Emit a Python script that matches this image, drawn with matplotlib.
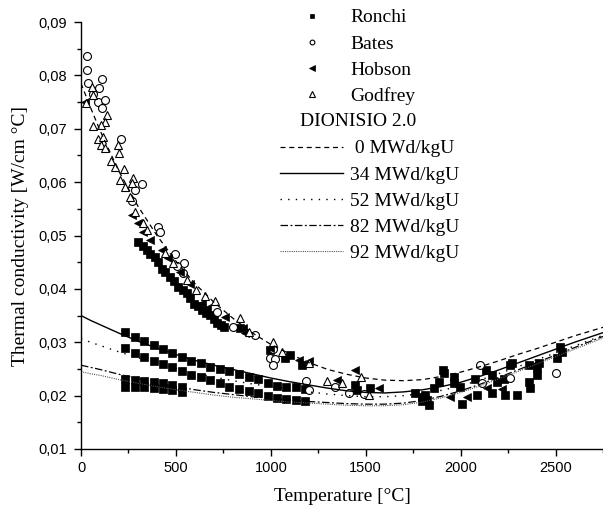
import matplotlib
matplotlib.use("Agg")
import matplotlib.pyplot as plt
from matplotlib.lines import Line2D
from matplotlib.ticker import MultipleLocator, FuncFormatter

# ---------------- data ----------------
ronchi_T = [232, 285, 334, 385, 432, 482, 531, 580, 633, 682, 731, 780, 830, 883, 935, 983, 1032, 1081, 1134, 1181,
            232, 285, 334, 385, 432, 482, 531, 580, 633, 682, 731, 780, 830, 883, 935, 983, 1032, 1081, 1134, 1181,
            232, 285, 334, 385, 432, 482, 531,
            232, 285, 334, 385, 432, 482, 531,
            302, 325, 346, 365, 390, 405, 425, 445, 469, 490, 513, 535, 557, 575, 593, 615, 637, 658, 680, 700,
            716, 735, 751, 838, 997, 1076, 1102, 1164, 1445, 1454, 1524,
            1762, 1797, 1814, 1823, 1832, 1797, 1859, 1885, 1907, 1911, 1964, 1964, 1999, 2008, 2078, 2087, 2131,
            2166, 2166, 2192, 2228, 2236, 2262, 2271, 2295, 2359, 2359, 2368, 2403, 2412, 2403, 2509, 2526, 2535]
ronchi_k = [0.0319, 0.0310, 0.0302, 0.0295, 0.0287, 0.0280, 0.0273, 0.0265, 0.0261, 0.0254, 0.0250, 0.0246, 0.0241,
            0.0234, 0.0231, 0.0223, 0.0218, 0.0216, 0.0216, 0.0213,
            0.0289, 0.0280, 0.0273, 0.0265, 0.0259, 0.0253, 0.0246, 0.0239, 0.0234, 0.0229, 0.0223, 0.0217, 0.0213,
            0.0209, 0.0204, 0.0199, 0.0196, 0.0194, 0.0191, 0.0189,
            0.0231, 0.0229, 0.0228, 0.0226, 0.0223, 0.0220, 0.0217,
            0.0217, 0.0217, 0.0216, 0.0215, 0.0212, 0.0211, 0.0207,
            0.0488, 0.0480, 0.0473, 0.0465, 0.0460, 0.0450, 0.0437, 0.0432, 0.0423, 0.0414, 0.0404, 0.0397, 0.0392,
            0.0383, 0.0372, 0.0367, 0.0360, 0.0355, 0.0351, 0.0343, 0.0336, 0.0333, 0.0329, 0.0326, 0.0285, 0.0270,
            0.0277, 0.0257, 0.0220, 0.0211, 0.0214,
            0.0204, 0.0198, 0.0201, 0.0192, 0.0182, 0.0189, 0.0214, 0.0226, 0.0248, 0.0242, 0.0235, 0.0223, 0.0217,
            0.0184, 0.0231, 0.0201, 0.0248, 0.0239, 0.0204, 0.0226, 0.0232, 0.0201, 0.0257, 0.0261, 0.0201, 0.0257,
            0.0226, 0.0214, 0.0251, 0.0261, 0.0239, 0.0270, 0.0292, 0.0282]

bates_T = [30, 33, 39, 112, 65, 95, 91, 127, 112, 209, 320, 285, 267, 408, 417, 496, 543, 508, 536, 716, 803, 918,
           1011, 997, 1023, 1014, 1187, 1199, 1340, 1410, 1489, 2104, 2113, 2262, 2505]
bates_k = [0.0836, 0.0810, 0.0785, 0.0794, 0.0765, 0.0776, 0.0751, 0.0753, 0.0738, 0.0680, 0.0596, 0.0586, 0.0565,
           0.0515, 0.0507, 0.0465, 0.0449, 0.0443, 0.0429, 0.0357, 0.0328, 0.0314, 0.0287, 0.0270, 0.0268, 0.0257,
           0.0228, 0.0211, 0.0216, 0.0205, 0.0203, 0.0257, 0.0223, 0.0233, 0.0243]

hobson_T = [21, 267, 302, 325, 364, 425, 460, 522, 575, 637, 663, 760, 856, 865, 997, 1146, 1199, 1349, 1445, 1568,
            1946, 2034, 2140, 2219]
hobson_k = [0.0751, 0.0538, 0.0524, 0.0507, 0.0492, 0.0473, 0.0457, 0.0432, 0.0410, 0.0373, 0.0364, 0.0348, 0.0326,
            0.0317, 0.0289, 0.0267, 0.0264, 0.0229, 0.0248, 0.0214, 0.0198, 0.0198, 0.0214, 0.0212]

godfrey_T = [25, 60, 61, 135, 127, 65, 105, 88, 118, 105, 127, 197, 200, 158, 179, 228, 205, 272, 270, 232, 258, 285,
             325, 350, 443, 487, 561, 606, 654, 707, 838, 883, 1014, 1058, 1199, 1296, 1375, 1475, 1515]
godfrey_k = [0.0748, 0.0779, 0.0764, 0.0726, 0.0713, 0.0705, 0.0707, 0.0680, 0.0684, 0.0670, 0.0663, 0.0670, 0.0654,
             0.0640, 0.0629, 0.0624, 0.0604, 0.0607, 0.0598, 0.0591, 0.0573, 0.0544, 0.0524, 0.0510, 0.0468, 0.0448,
             0.0417, 0.0398, 0.0387, 0.0378, 0.0345, 0.0320, 0.0301, 0.0282, 0.0262, 0.0227, 0.0224, 0.0234, 0.0201]

model_T = [0, 50, 100, 200, 300, 400, 500, 600, 700, 800, 900, 1000, 1100, 1200, 1300, 1400, 1500, 1600, 1700, 1800,
           1900, 2000, 2100, 2200, 2300, 2400, 2500, 2600, 2750]
k_0 = [0.0785, 0.0740, 0.0697, 0.0620, 0.0555, 0.0500, 0.0452, 0.0410, 0.0375, 0.0345, 0.0318, 0.0296, 0.0278,
       0.0262, 0.0249, 0.0240, 0.0233, 0.0229, 0.0228, 0.0230, 0.0236, 0.0244, 0.0254, 0.0265, 0.0277, 0.0288,
       0.0300, 0.0312, 0.0328]
k_34 = [0.0350, 0.0341, 0.0333, 0.0317, 0.0302, 0.0289, 0.0277, 0.0266, 0.0257, 0.0249, 0.0241, 0.0233, 0.0226,
        0.0220, 0.0214, 0.0209, 0.0206, 0.0205, 0.0207, 0.0211, 0.0217, 0.0225, 0.0236, 0.0248, 0.0261, 0.0274,
        0.0287, 0.0300, 0.0318]
k_52 = [0.0307, 0.0300, 0.0294, 0.0282, 0.0271, 0.0260, 0.0251, 0.0242, 0.0235, 0.0228, 0.0222, 0.0217, 0.0212,
        0.0207, 0.0203, 0.0200, 0.0198, 0.0198, 0.0200, 0.0204, 0.0210, 0.0218, 0.0229, 0.0241, 0.0254, 0.0267,
        0.0280, 0.0293, 0.0313]
k_82 = [0.0257, 0.0253, 0.0249, 0.0240, 0.0232, 0.0224, 0.0217, 0.0211, 0.0206, 0.0202, 0.0198, 0.0195, 0.0192,
        0.0189, 0.0187, 0.0185, 0.0184, 0.0184, 0.0186, 0.0191, 0.0199, 0.0209, 0.0221, 0.0234, 0.0248, 0.0262,
        0.0276, 0.0290, 0.0311]
k_92 = [0.0245, 0.0241, 0.0238, 0.0230, 0.0223, 0.0217, 0.0211, 0.0206, 0.0201, 0.0197, 0.0194, 0.0191, 0.0188,
        0.0186, 0.0184, 0.0182, 0.0181, 0.0181, 0.0183, 0.0188, 0.0196, 0.0206, 0.0218, 0.0231, 0.0245, 0.0259,
        0.0273, 0.0287, 0.0308]

series_labels = ["Ronchi", "Bates", "Hobson", "Godfrey"]
model_labels = [" 0 MWd/kgU", "34 MWd/kgU", "52 MWd/kgU", "82 MWd/kgU", "92 MWd/kgU"]
model_title = "DIONISIO 2.0"
x_label = "Temperature [\u00b0C]"
y_label = "Thermal conductivity [W/cm \u00b0C]"

# ---------------- figure ----------------
serif = ["Liberation Serif", "DejaVu Serif"]
sans = ["Liberation Sans", "DejaVu Sans"]
FS = 14

fig = plt.figure(figsize=(6.03, 5.14), dpi=100)
ax = fig.add_axes([81 / 603, 65 / 514, 1 - 81 / 603, (449 - 22) / 514])

ms = 5.7
h_r, = ax.plot(ronchi_T, ronchi_k, ls="none", marker="s", ms=ms * 0.95, mfc="black", mec="black", mew=0.5)
h_b, = ax.plot(bates_T, bates_k, ls="none", marker="o", ms=ms, mfc="white", mec="black", mew=0.8)
h_h, = ax.plot(hobson_T, hobson_k, ls="none", marker="<", ms=ms * 1.1, mfc="black", mec="black", mew=0.5)
h_g, = ax.plot(godfrey_T, godfrey_k, ls="none", marker="^", ms=ms * 1.1, mfc="white", mec="black", mew=0.8)

l0, = ax.plot(model_T, k_0, color="black", lw=0.9, dashes=(4, 3))
l34, = ax.plot(model_T, k_34, color="black", lw=1.0, ls="-")
l52, = ax.plot(model_T, k_52, color="black", lw=1.0, dashes=(1, 4.5))
l82, = ax.plot(model_T, k_82, color="black", lw=0.9, dashes=(6, 2, 1.5, 2))
l92, = ax.plot(model_T, k_92, color="#555555", lw=0.8, dashes=(1, 1))

ax.set_xlim(0, 2750)
ax.set_ylim(0.01, 0.09)
ax.xaxis.set_major_locator(MultipleLocator(500))
ax.xaxis.set_minor_locator(MultipleLocator(250))
ax.yaxis.set_major_locator(MultipleLocator(0.01))
ax.yaxis.set_minor_locator(MultipleLocator(0.005))
ax.yaxis.set_major_formatter(FuncFormatter(lambda v, p: f"{v:.2f}".replace(".", ",")))
ax.spines["top"].set_visible(False)
ax.spines["right"].set_visible(False)
for s in ("left", "bottom"):
    ax.spines[s].set_linewidth(1.0)
ax.tick_params(which="major", direction="out", length=5, width=1.0, labelsize=10.5)
ax.tick_params(which="minor", direction="out", length=3, width=1.0)
ax.tick_params(axis="y", which="major", pad=5)
ax.tick_params(axis="x", which="major", pad=4)
for lab in ax.get_xticklabels() + ax.get_yticklabels():
    lab.set_family(sans)

ax.set_xlabel(x_label, fontsize=FS, family=serif, labelpad=9)
ax.set_ylabel(y_label, fontsize=FS, family=serif, labelpad=7)

blank = Line2D([], [], ls="none")
handles = [h_r, h_b, h_h, h_g, blank, l0, l34, l52, l82, l92]
labels = series_labels + [""] + model_labels
leg = ax.legend(handles, labels, loc="upper left", bbox_to_anchor=((280 - 81) / 522, 1.031),
                frameon=False, prop={"family": serif, "size": FS}, handlelength=3.25, handletextpad=0.36,
                labelspacing=0.44, markerscale=0.6, borderaxespad=0, borderpad=0)
ax.text((300 - 81) / 522, (449 - 121) / 427, model_title, transform=ax.transAxes, family=serif, fontsize=FS,
        va="center", ha="left")

fig.savefig("out.png", dpi=100)
